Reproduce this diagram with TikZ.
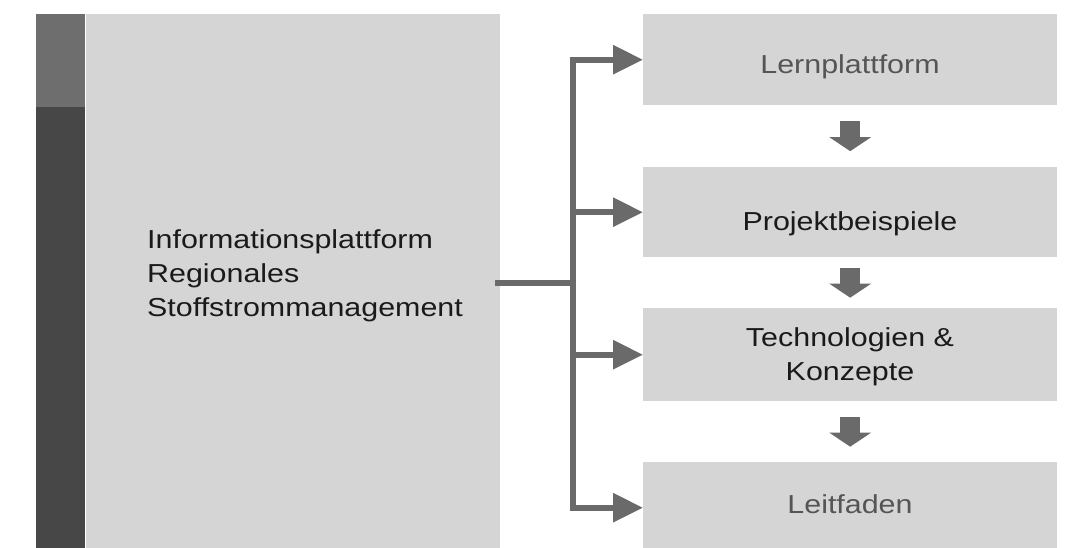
\documentclass[tikz,border=0pt]{standalone}
\usepackage{fontspec}
\setmainfont{Liberation Sans}[FakeStretch=1.17]
\usetikzlibrary{arrows.meta,calc}
\definecolor{boxgray}{HTML}{D5D5D5}
\definecolor{bartopgray}{HTML}{6E6E6E}
\definecolor{bardark}{HTML}{474747}
\definecolor{arrowgray}{HTML}{6A6A6A}
\definecolor{graytext}{HTML}{555555}
\definecolor{darktext}{HTML}{1A1A1A}
\begin{document}
\begin{tikzpicture}[x=1pt,y=-1pt,
  box/.style={fill=boxgray, draw=none, inner sep=0pt, anchor=north west},
  bar/.style={draw=none, inner sep=0pt, anchor=north west, minimum width=49pt},
  rbox/.style={box, minimum width=414pt},
  line/.style={draw=arrowgray, line width=6pt},
  conn/.style={line, -{Triangle[length=30pt,width=28pt]}},
  down/.style={draw=arrowgray, line width=20pt, -{Triangle[length=14pt,width=41pt]}},
  lbl/.style={font=\fontsize{26}{34}\selectfont, inner sep=0pt}]
\useasboundingbox (0,0) rectangle (1068,547);
\clip (0,0) rectangle (1068,547);
% left block
\node[box, minimum width=414pt, minimum height=546pt] (main) at (86,14) {};
\node[bar, fill=bartopgray, minimum height=93pt] (bartop) at (36,14) {};
\node[bar, fill=bardark, minimum height=453pt] (barlow) at (36,107) {};
\node[lbl, text=darktext, align=left, anchor=west] (maintext) at (147,275.5)
  {Informationsplattform\\Regionales\\Stoffstrommanagement};
% right boxes
\node[rbox, minimum height=91pt] (b1) at (643,14) {};
\node[rbox, minimum height=90pt] (b2) at (643,167) {};
\node[rbox, minimum height=93pt] (b3) at (643,308) {};
\node[rbox, minimum height=91pt] (b4) at (643,462) {};
\node[lbl, text=graytext, anchor=base] (t1) at (850,73) {Lernplattform};
\node[lbl, text=darktext, anchor=base] (t2) at (850,230) {Projektbeispiele};
\node[lbl, text=darktext, align=center, anchor=center] (t3) at (850,357) {Technologien \&\\Konzepte};
\node[lbl, text=graytext, anchor=base] (t4) at (850,513) {Leitfaden};
% connectors
\coordinate (start) at (495,283);
\coordinate (hub) at (573,283);
\draw[line] (start) -- (hub);
\draw[conn] (hub) |- (b1.west);
\draw[conn] (hub) |- (b2.west);
\draw[conn] (hub) |- (b3.west);
\draw[conn] (hub) |- (b4.west);
% down arrows
\coordinate (g1) at ($(b1.south)!0.5!(b2.north)$);
\coordinate (g2) at ($(b2.south)!0.5!(b3.north)$);
\coordinate (g3) at ($(b3.south)!0.5!(b4.north)$);
\draw[down] ($(g1)+(0,-15)$) -- ($(g1)+(0,15)$);
\draw[down] ($(g2)+(0,-15)$) -- ($(g2)+(0,15)$);
\draw[down] ($(g3)+(0,-15)$) -- ($(g3)+(0,15)$);
\end{tikzpicture}
\end{document}
